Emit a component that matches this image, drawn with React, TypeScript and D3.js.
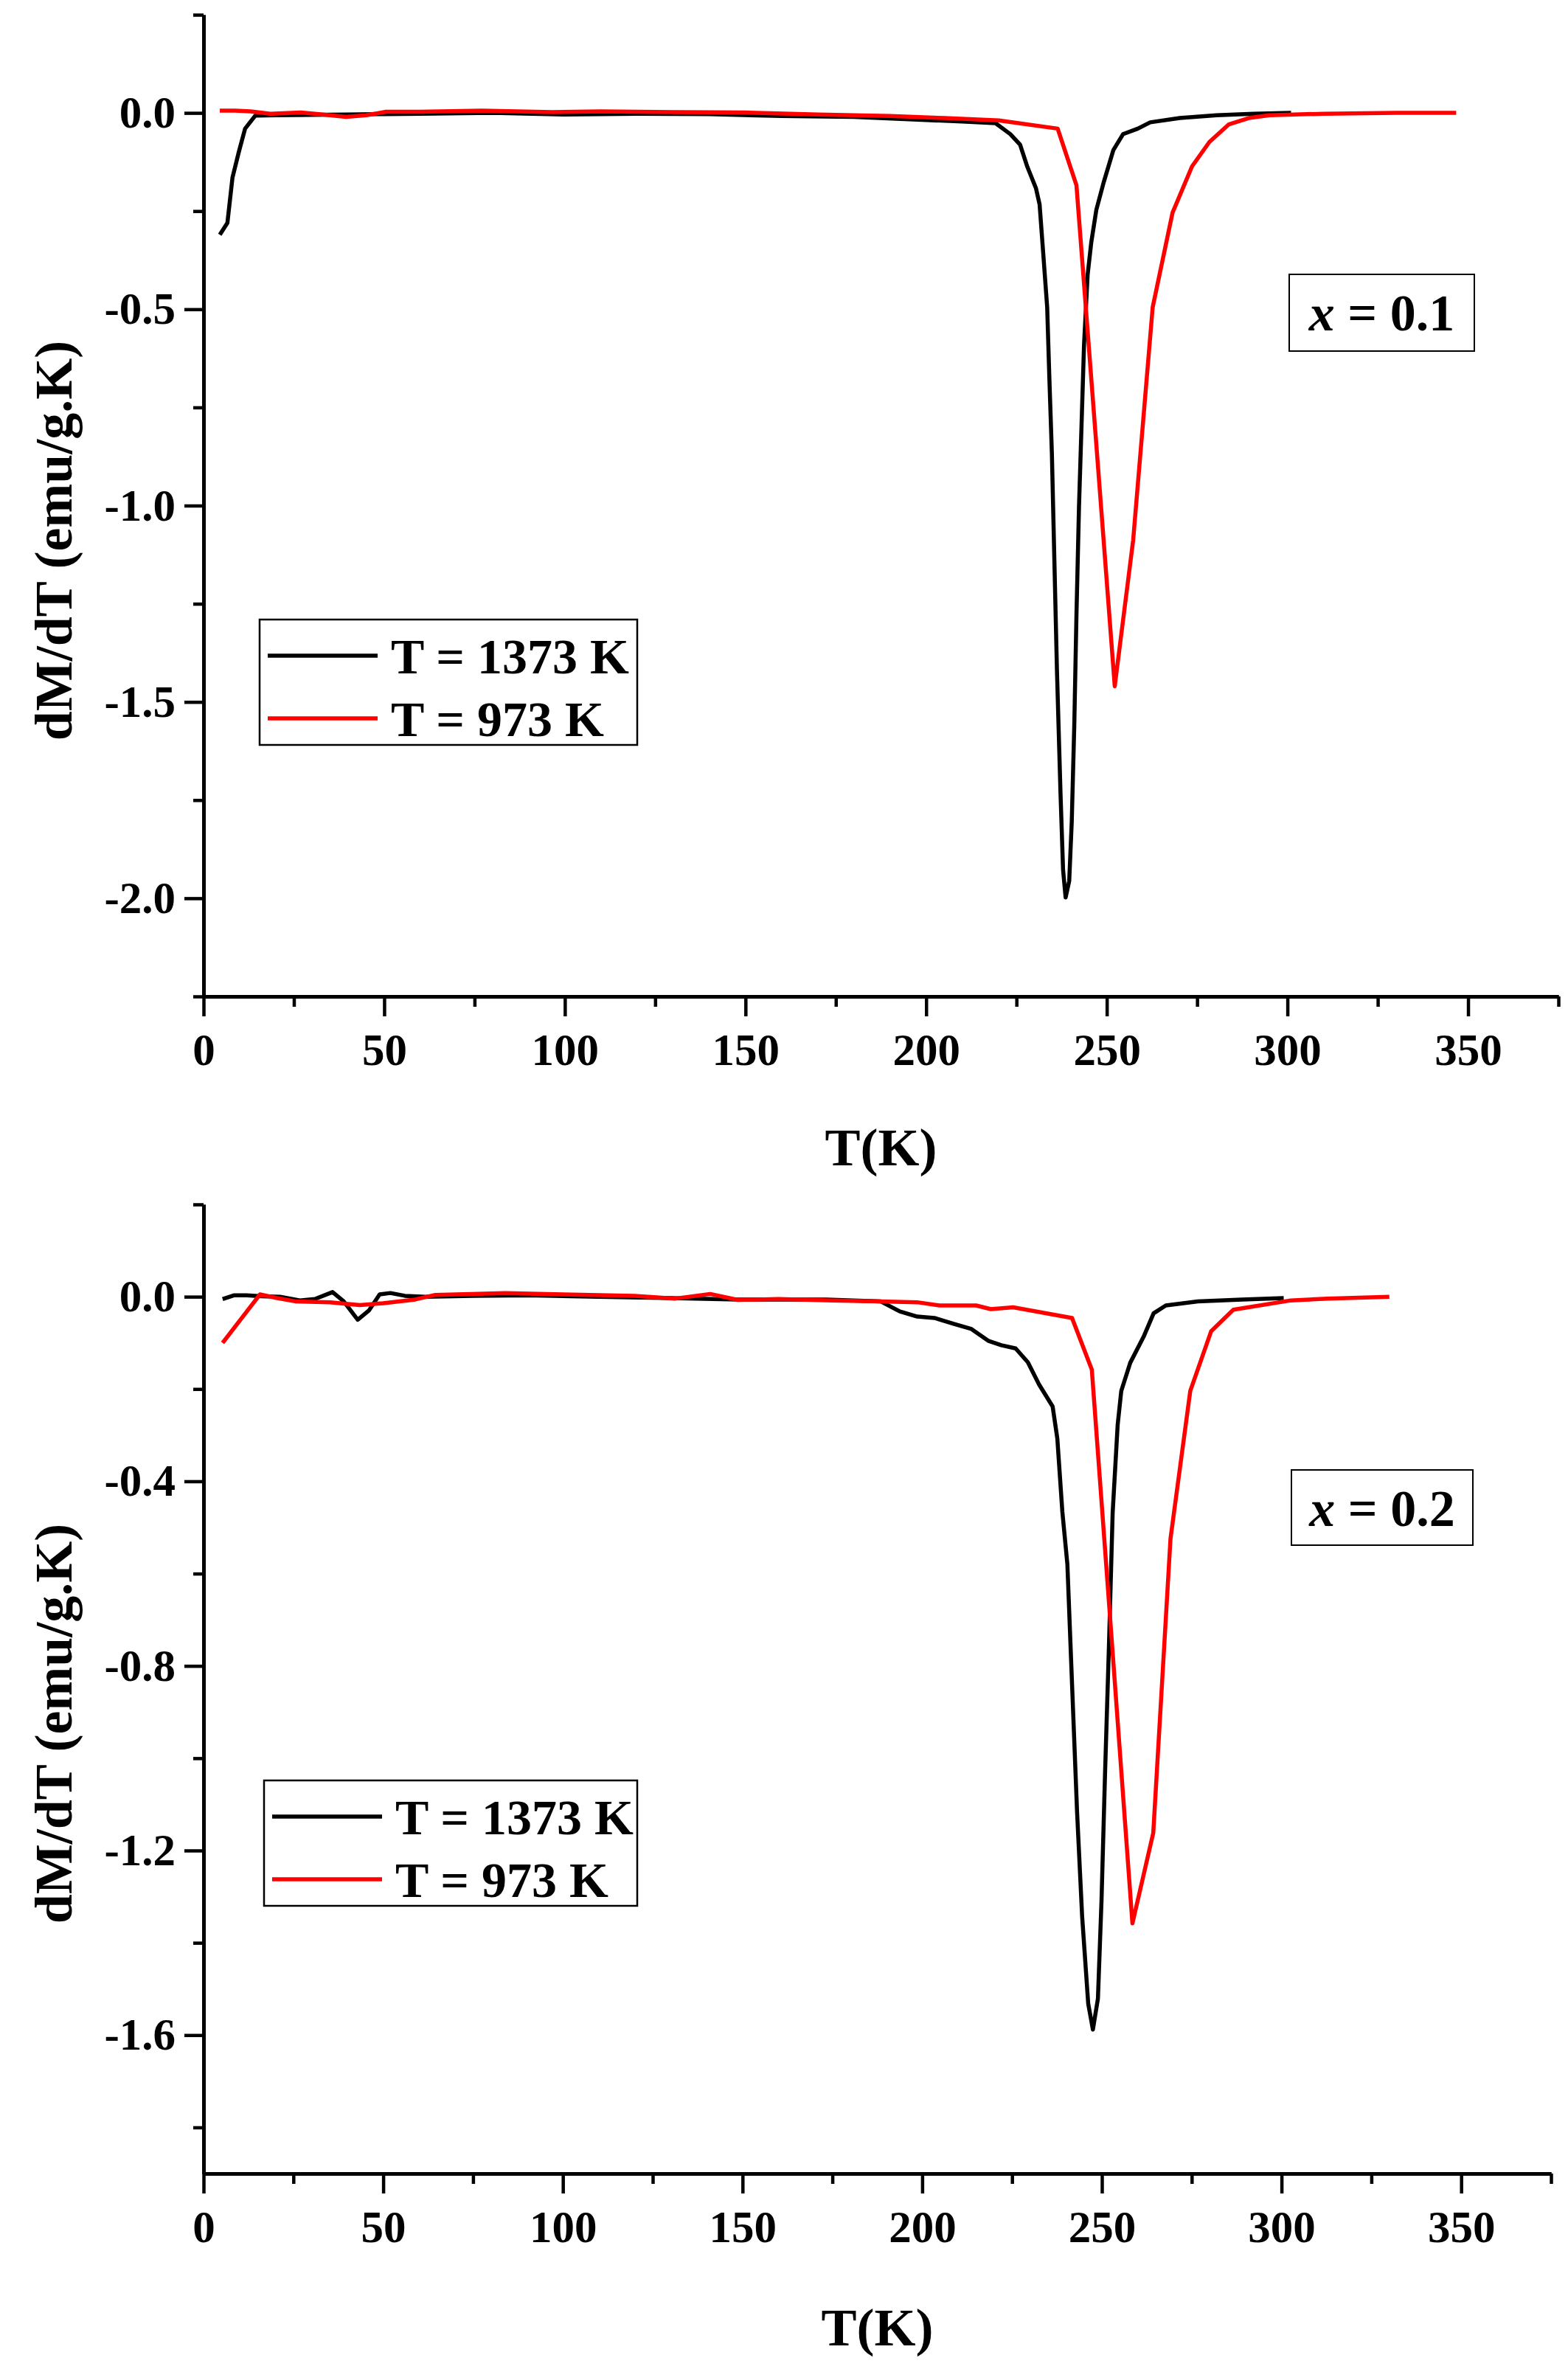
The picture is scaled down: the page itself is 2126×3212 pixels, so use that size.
import { useEffect, useRef } from "react"
import * as d3 from "d3"

type Pt = [number, number]

// x = 0.1 panel, T = 1373 K
const black1373Top: Pt[] = [
    [4.5, -0.31], [6.6, -0.28], [8.0, -0.165], [9.8, -0.098], [11.5, -0.04], [14.3, -0.007],
    [20, -0.006], [30, -0.005], [40, -0.004], [50, -0.003], [60, -0.002], [80, 0.0],
    [100, -0.004], [120, -0.002], [140, -0.003], [160, -0.008], [180, -0.01], [200, -0.018],
    [210, -0.022], [219.2, -0.026], [223.3, -0.054], [226.0, -0.081], [228.0, -0.137],
    [230.4, -0.192], [231.4, -0.233], [232.4, -0.357], [233.5, -0.495], [234.1, -0.674],
    [234.8, -0.867], [235.5, -1.143], [236.2, -1.418], [237.2, -1.736], [237.9, -1.928],
    [238.6, -1.998], [239.6, -1.956], [240.3, -1.805], [241.0, -1.56], [241.6, -1.28],
    [242.3, -1.005], [243.0, -0.798], [243.7, -0.59], [244.7, -0.412], [245.7, -0.33],
    [247.1, -0.247], [249.1, -0.178], [251.8, -0.095], [254.5, -0.054], [258.6, -0.04],
    [262.0, -0.024], [270.2, -0.013], [280.4, -0.006], [290.6, -0.002], [301, 0.0],
]

// x = 0.1 panel, T = 973 K
const red973Top: Pt[] = [
    [4.5, 0.006], [8.7, 0.006], [13, 0.004], [18.5, -0.002], [26.9, 0.001], [33, -0.004],
    [39.4, -0.01], [45, -0.006], [50.5, 0.003], [60, 0.003], [77, 0.006], [96.5, 0.002],
    [110, 0.004], [130, 0.002], [150, 0.001], [170, -0.004], [190, -0.008], [205, -0.013],
    [220.1, -0.019], [236.4, -0.04], [241.6, -0.184], [246.9, -0.82], [252.2, -1.46],
    [257.3, -1.088], [262.7, -0.495], [268.2, -0.254], [273.6, -0.136], [278.4, -0.074],
    [283.8, -0.029], [289.3, -0.013], [295, -0.006], [310, -0.002], [330, 0.0], [346.7, 0.0],
]

// x = 0.2 panel, T = 1373 K
const black1373Bottom: Pt[] = [
    [5.3, -0.005], [8.4, 0.003], [12, 0.003], [16, 0.001], [21.3, 0.0], [26.8, -0.008],
    [31, -0.005], [35.9, 0.01], [39, -0.01], [42.9, -0.05], [46, -0.03], [49, 0.005],
    [52, 0.008], [56, 0.002], [61.7, 0.0], [75, 0.002], [90, 0.003], [110, 0.0],
    [130, -0.003], [148.7, -0.006], [173.3, -0.006], [188.4, -0.01], [193.8, -0.032],
    [198.6, -0.043], [203.4, -0.046], [208.9, -0.059], [213.7, -0.07], [218.5, -0.096],
    [222, -0.105], [226, -0.112], [229.4, -0.142], [232.5, -0.19], [236.3, -0.238],
    [237.6, -0.307], [239, -0.466], [240.4, -0.58], [241.8, -0.86], [243.1, -1.117],
    [244.5, -1.342], [246.2, -1.532], [247.5, -1.588], [248.9, -1.521], [249.9, -1.308],
    [250.9, -1.028], [252, -0.748], [253, -0.468], [254.4, -0.277], [255.4, -0.204],
    [257.9, -0.143], [261.6, -0.087], [264.4, -0.036], [267.8, -0.019], [276.7, -0.01],
    [289, -0.006], [300.6, -0.003],
]

// x = 0.2 panel, T = 973 K
const red973Bottom: Pt[] = [
    [5.3, -0.1], [15.7, 0.005], [20.5, -0.003], [25.5, -0.01], [35.2, -0.012], [43.5, -0.018],
    [50, -0.014], [58.9, -0.006], [64.5, 0.004], [84, 0.008], [100, 0.005], [120, 0.002],
    [131.3, -0.004], [141, 0.006], [148.7, -0.007], [160, -0.005], [175, -0.008],
    [188.4, -0.01], [198.6, -0.012], [204.8, -0.019], [215, -0.019], [219.1, -0.027],
    [225.3, -0.023], [241.7, -0.046], [247.2, -0.158], [252.8, -0.75], [258.5, -1.358],
    [264.3, -1.162], [269.1, -0.524], [274.6, -0.204], [280.4, -0.075], [286.6, -0.028],
    [302.6, -0.008], [312.8, -0.004], [330, 0.0],
]

const xMajor = [0, 50, 100, 150, 200, 250, 300, 350]
const xMinor = [25, 75, 125, 175, 225, 275, 325, 375]
const yMajorTop = [-2.0, -1.5, -1.0, -0.5, 0.0]
const yMinorTop = [-2.25, -1.75, -1.25, -0.75, -0.25, 0.25]
const yMajorBottom = [-1.6, -1.2, -0.8, -0.4, 0.0]
const yMinorBottom = [-1.8, -1.4, -1.0, -0.6, -0.2, 0.2]

const seriesNames = ["T = 1373 K", "T = 973 K"]
const seriesColors = ["#000000", "#ff0000"]

const FONT = "'Liberation Serif', 'Times New Roman', serif"

interface Panel {
    left: number
    right: number
    top: number
    bottom: number
    yDomain: [number, number]
    yMajor: number[]
    yMinor: number[]
    series: Pt[][]
    tag: string
    legend: { x: number; y: number; w: number; h: number }
    tagBox: { x: number; y: number; w: number; h: number }
    yTitleY: number
    xTitleY: number
}

const panels: Panel[] = [
    {
        left: 276, right: 2113, top: 20, bottom: 1351,
        yDomain: [-2.25, 0.25], yMajor: yMajorTop, yMinor: yMinorTop,
        series: [black1373Top, red973Top], tag: "0.1",
        legend: { x: 352, y: 840, w: 512, h: 170 },
        tagBox: { x: 1748, y: 372, w: 251, h: 104 },
        yTitleY: 733, xTitleY: 1580,
    },
    {
        left: 276, right: 2103, top: 1633, bottom: 2947,
        yDomain: [-1.9, 0.2], yMajor: yMajorBottom, yMinor: yMinorBottom,
        series: [black1373Bottom, red973Bottom], tag: "0.2",
        legend: { x: 358, y: 2414, w: 506, h: 170 },
        tagBox: { x: 1751, y: 1993, w: 246, h: 102 },
        yTitleY: 2337, xTitleY: 3180,
    },
]

export default function App() {
    const svgRef = useRef<SVGSVGElement | null>(null)

    useEffect(() => {
        if (!svgRef.current) return
        const svg = d3.select(svgRef.current)
        svg.selectAll("*").remove()

        svg.append("rect").attr("width", 2126).attr("height", 3212).attr("fill", "#fff")

        panels.forEach((p) => {
            const x = d3.scaleLinear().domain([0, 375]).range([p.left, p.right])
            const y = d3.scaleLinear().domain(p.yDomain).range([p.bottom, p.top])
            const g = svg.append("g")

            // curves
            const line = d3.line<Pt>().x((d) => x(d[0])).y((d) => y(d[1]))
            p.series.forEach((s, i) => {
                g.append("path")
                    .datum(s)
                    .attr("fill", "none")
                    .attr("stroke", seriesColors[i])
                    .attr("stroke-width", 5.5)
                    .attr("stroke-linejoin", "round")
                    .attr("d", line)
            })

            // axes
            const styleAxis = (a: d3.Selection<SVGGElement, unknown, null, undefined>) => {
                a.attr("font-family", FONT).attr("font-size", 61).attr("font-weight", "bold")
                a.select(".domain").attr("stroke-width", 5).attr("stroke", "#000")
                a.selectAll(".tick line").attr("stroke-width", 4.5).attr("stroke", "#000")
                a.selectAll(".tick text").attr("fill", "#000")
            }

            const xAxisMinor = g.append("g").attr("transform", `translate(0,${p.bottom})`)
                .call(d3.axisBottom(x).tickValues(xMinor).tickSize(14).tickSizeOuter(0).tickFormat(() => ""))
            styleAxis(xAxisMinor)
            const xAxis = g.append("g").attr("transform", `translate(0,${p.bottom})`)
                .call(d3.axisBottom(x).tickValues(xMajor).tickSize(27).tickSizeOuter(0).tickPadding(23)
                    .tickFormat((d) => String(d)))
            styleAxis(xAxis)

            const yAxisMinor = g.append("g").attr("transform", `translate(${p.left},0)`)
                .call(d3.axisLeft(y).tickValues(p.yMinor).tickSize(14).tickSizeOuter(0).tickFormat(() => ""))
            styleAxis(yAxisMinor)
            const yAxis = g.append("g").attr("transform", `translate(${p.left},0)`)
                .call(d3.axisLeft(y).tickValues(p.yMajor).tickSize(26).tickSizeOuter(0).tickPadding(12)
                    .tickFormat((d) => (+d).toFixed(1)))
            styleAxis(yAxis)

            // axis titles
            svg.append("text")
                .attr("transform", `translate(97,${p.yTitleY}) rotate(-90)`)
                .attr("text-anchor", "middle")
                .attr("font-family", FONT).attr("font-weight", "bold").attr("font-size", 72)
                .text("dM/dT (emu/g.K)")
            svg.append("text")
                .attr("x", (p.left + p.right) / 2)
                .attr("y", p.xTitleY)
                .attr("text-anchor", "middle")
                .attr("font-family", FONT).attr("font-weight", "bold").attr("font-size", 72)
                .text("T(K)")

            // legend
            const lg = svg.append("g").attr("transform", `translate(${p.legend.x},${p.legend.y})`)
            lg.append("rect")
                .attr("width", p.legend.w).attr("height", p.legend.h)
                .attr("fill", "#fff").attr("stroke", "#000").attr("stroke-width", 2.5)
            seriesNames.forEach((name, i) => {
                const ly = 49 + i * 85
                lg.append("line")
                    .attr("x1", 11).attr("x2", 160).attr("y1", ly).attr("y2", ly)
                    .attr("stroke", seriesColors[i]).attr("stroke-width", 5.5)
                lg.append("text")
                    .attr("x", 178).attr("y", ly + 24)
                    .attr("font-family", FONT).attr("font-weight", "bold").attr("font-size", 68)
                    .text(name)
            })

            // composition tag
            const tb = svg.append("g").attr("transform", `translate(${p.tagBox.x},${p.tagBox.y})`)
            tb.append("rect")
                .attr("width", p.tagBox.w).attr("height", p.tagBox.h)
                .attr("fill", "#fff").attr("stroke", "#000").attr("stroke-width", 2)
            const tt = tb.append("text")
                .attr("x", p.tagBox.w / 2).attr("y", 76)
                .attr("text-anchor", "middle")
                .attr("font-family", FONT).attr("font-weight", "bold").attr("font-size", 70)
            tt.append("tspan").attr("font-style", "italic").text("x")
            tt.append("tspan").text(` = ${p.tag}`)
        })
    }, [])

    return (
        <svg
            ref={svgRef}
            width={2126}
            height={3212}
            style={{ position: "absolute", left: 0, top: 0, display: "block" }}
        />
    )
}
